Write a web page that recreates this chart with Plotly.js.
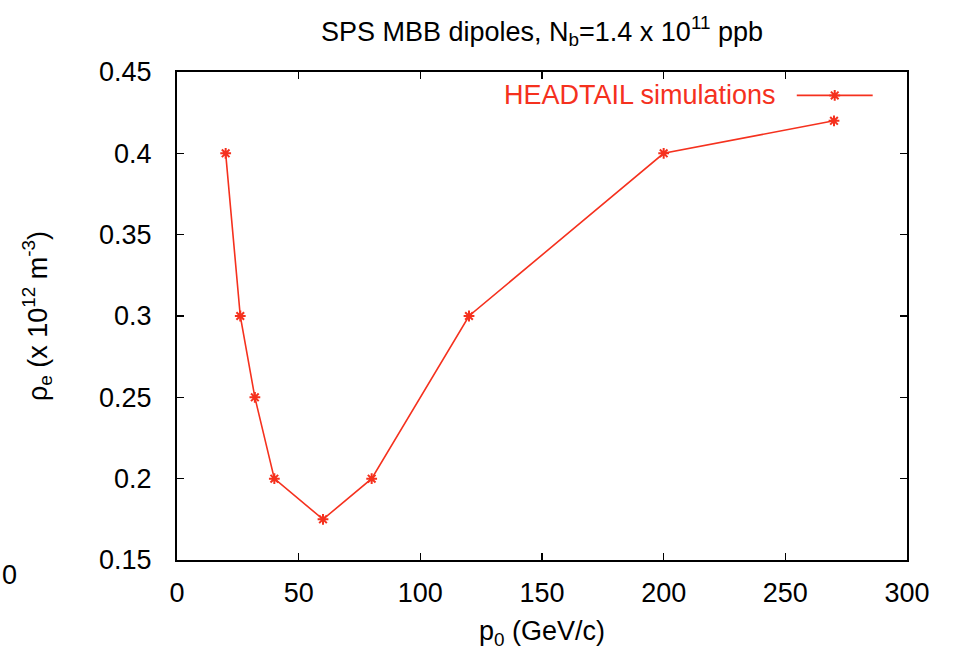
<!DOCTYPE html>
<html>
<head>
<meta charset="utf-8">
<script src="https://cdn.plot.ly/plotly-3.0.1.min.js"></script>
<style>
  html, body { margin: 0; padding: 0; background: #ffffff; }
  #chart { width: 954px; height: 650px; }
</style>
</head>
<body>
<div id="chart"></div>
<script>
// Beam momentum (GeV/c) and electron cloud density threshold (x 10^12 m^-3)
const momentum = [20, 26, 32, 40, 60, 80, 120, 200, 270];
const density = [0.4, 0.3, 0.25, 0.2, 0.175, 0.2, 0.3, 0.4, 0.42];

const seriesName = 'HEADTAIL simulations';
const xTicks = [0, 50, 100, 150, 200, 250, 300];
const yTicks = [0.15, 0.2, 0.25, 0.3, 0.35, 0.4, 0.45];

// Key sample for the legend entry (overlay axes span 0..1 of the plot box)
const keyX = [0.849, 0.901, 0.953];
const keyY = [0.952, 0.952, 0.952];

const red = '#f5311e';
const font = 'Liberation Sans, Arial, Helvetica, sans-serif';
const fs = 27;

const traces = [
  {
    x: momentum, y: density,
    type: 'scatter', mode: 'lines+markers',
    name: seriesName,
    line: { color: red, width: 1.6 },
    marker: { symbol: 'asterisk-open', size: 9, color: red, line: { color: red, width: 2 } },
    showlegend: false,
    cliponaxis: false
  },
  {
    x: keyX, y: keyY,
    xaxis: 'x2', yaxis: 'y2',
    type: 'scatter', mode: 'lines',
    line: { color: red, width: 1.6 },
    showlegend: false, hoverinfo: 'skip'
  },
  {
    x: [keyX[1]], y: [keyY[1]],
    xaxis: 'x2', yaxis: 'y2',
    type: 'scatter', mode: 'markers',
    marker: { symbol: 'asterisk-open', size: 9, color: red, line: { color: red, width: 2 } },
    showlegend: false, hoverinfo: 'skip'
  }
];

const axisCommon = {
  showline: true, linecolor: '#000', linewidth: 2,
  mirror: 'ticks', ticks: 'inside', ticklen: 7, tickwidth: 1.6, tickcolor: '#000',
  showgrid: false, zeroline: false,
  tickfont: { family: font, size: fs, color: '#000' },
  automargin: false
};

const layout = {
  width: 954, height: 650,
  paper_bgcolor: '#fff', plot_bgcolor: '#fff',
  margin: { l: 177, r: 47, t: 72, b: 90 },
  font: { family: font, color: '#000' },
  title: {
    text: 'SPS MBB dipoles, N<sub>b</sub>=1.4 x 10<sup>11</sup> ppb',
    font: { family: font, size: fs, color: '#000' },
    x: 0.5, xref: 'paper', xanchor: 'center',
    y: 0.952, yref: 'container', yanchor: 'middle'
  },
  xaxis: Object.assign({}, axisCommon, {
    range: [0, 300], tickvals: xTicks,
    ticklabelstandoff: 8,
    title: { text: 'p<sub>0</sub> (GeV/c)', font: { family: font, size: fs, color: '#000' }, standoff: 14 }
  }),
  yaxis: Object.assign({}, axisCommon, {
    range: [0.15, 0.45], tickvals: yTicks,
    ticklabelstandoff: 18,
    title: { text: 'ρ<sub>e</sub> (x 10<sup>12</sup> m<sup>-3</sup>)', font: { family: font, size: fs, color: '#000' }, standoff: 44 }
  }),
  xaxis2: { overlaying: 'x', range: [0, 1], visible: false, fixedrange: true },
  yaxis2: { overlaying: 'y', range: [0, 1], visible: false, fixedrange: true },
  annotations: [
    {
      text: seriesName, xref: 'paper', yref: 'paper',
      x: 0.823, y: 0.952, xanchor: 'right', yanchor: 'middle',
      showarrow: false, font: { family: font, size: fs, color: red }
    },
    {
      text: '0', xref: 'paper', yref: 'paper',
      x: -0.2425, y: -0.03, xanchor: 'left', yanchor: 'middle',
      showarrow: false, font: { family: font, size: fs, color: '#000' }
    }
  ]
};

Plotly.newPlot('chart', traces, layout, { displayModeBar: false, staticPlot: true });
</script>
</body>
</html>
